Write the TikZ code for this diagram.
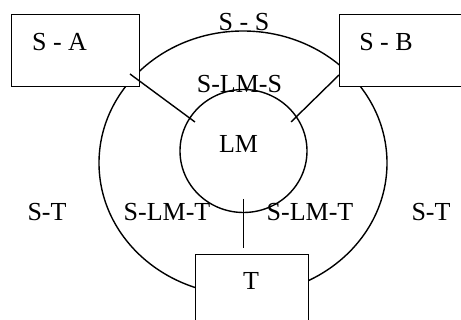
\documentclass[tikz,border=0pt]{standalone}
\usepackage{fontspec}
\setmainfont{Liberation Serif}
\usetikzlibrary{shapes.geometric,calc}
\begin{document}
\begin{tikzpicture}[x=1pt,y=-1pt,
  lw/.style={line width=1.4pt},
  boxnode/.style={draw,lw,fill=white,rectangle,inner sep=0pt,anchor=north west},
  ring/.style={draw,lw,ellipse,inner sep=0pt},
  lbl/.style={inner sep=0pt,font=\fontsize{26}{30}\selectfont},
  link/.style={lw}]
\useasboundingbox (0,0) rectangle (461,320);
\clip (0,0) rectangle (461,320);
% rings
\node[ring,minimum width=288pt,minimum height=264pt] (outer) at (243,163) {};
\node[ring,minimum width=127pt,minimum height=123pt] (inner) at (243.5,151) {};
% boxes
\node[boxnode,minimum width=128pt,minimum height=72pt] (sa) at (11,14) {};
\node[boxnode,minimum width=140pt,minimum height=72pt] (sb) at (339,14) {};
\node[boxnode,minimum width=113pt,minimum height=90pt] (t) at (194.7,254) {};
% connector ends
\coordinate (saP) at (130,74);
\coordinate (lmA) at (195,122);
\coordinate (sbP) at (339,75);
\coordinate (lmB) at (291,122);
\coordinate (lmC) at (243.3,199);
\coordinate (tP) at (243.3,248);
\draw[link] (saP) -- (lmA);
\draw[link] (sbP) -- (lmB);
\draw[link] (lmC) -- (tP);
% labels
\node[lbl] (saL) at (59.5,42) {S - A};
\node[lbl] (sbL) at (386,42) {S - B};
\node[lbl] (tL) at (251,281) {T};
\node[lbl] (ss) at (244,22) {S - S};
\node[lbl] (slms) at (239.5,83.6) {S-LM-S};
\node[lbl] (lm) at (238.5,144) {LM};
\node[lbl] (stL) at (47,212) {S-T};
\node[lbl] (slmtL) at (167,212) {S-LM-T};
\node[lbl] (slmtR) at (310,212) {S-LM-T};
\node[lbl] (stR) at (431,212) {S-T};
\end{tikzpicture}
\end{document}
